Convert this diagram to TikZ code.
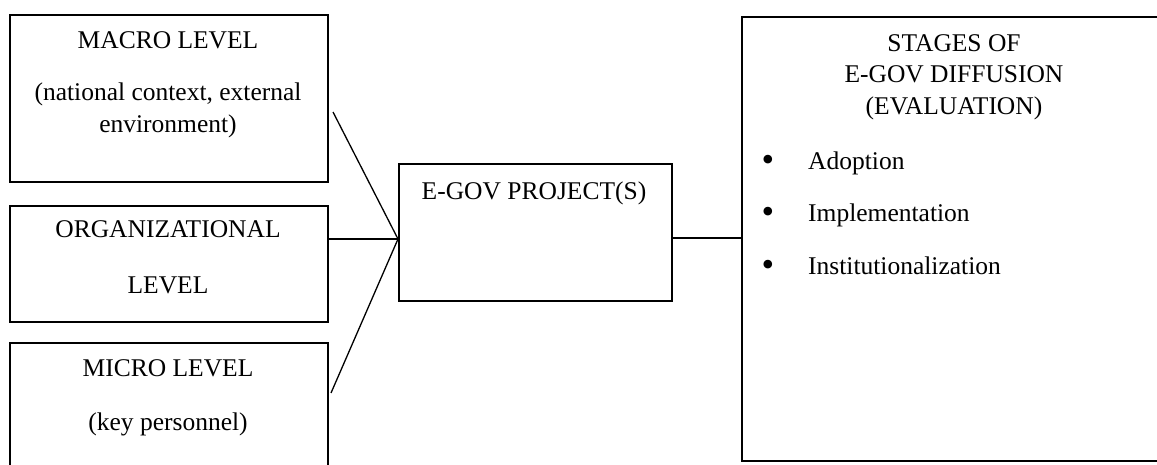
\documentclass[tikz,border=0pt]{standalone}
\usepackage{fontspec}
\setmainfont{Liberation Serif}
\begin{document}
\begin{tikzpicture}[x=1pt,y=-1pt,
  box/.style={draw, line width=2pt, inner sep=0pt, anchor=north west},
  lbl/.style={anchor=base, inner sep=0pt, font=\fontsize{25.5}{30.6}\selectfont},
  lbll/.style={anchor=base west, inner sep=0pt, font=\fontsize{25.5}{30.6}\selectfont},
  bul/.style={anchor=center, inner sep=0pt, font=\fontsize{36}{36}\selectfont},
  link/.style={line width=1.3pt}]
\useasboundingbox (0,0) rectangle (1157,465);
\fill[white] (0,0) rectangle (1157,465);
\clip (0,0) rectangle (1157,465);
% boxes
\node[box, minimum width=318pt, minimum height=167pt] (macro) at (9,14) {};
\node[box, minimum width=318pt, minimum height=116pt] (org) at (9,205) {};
\node[box, minimum width=318pt, minimum height=150pt] (micro) at (9,342) {};
\node[box, minimum width=273pt, minimum height=137pt] (egov) at (398,163) {};
\node[box, minimum width=440pt, minimum height=444pt] (stages) at (741,16) {};
% texts
\node[lbl] (tmacro) at (168,49) {MACRO LEVEL};
\node[lbl] (tmacro2) at (168,101) {(national context, external};
\node[lbl] (tmacro3) at (168,133) {environment)};
\node[lbl] (torg) at (168,238) {ORGANIZATIONAL};
\node[lbl] (torg2) at (168,293) {LEVEL};
\node[lbl] (tmicro) at (168,376) {MICRO LEVEL};
\node[lbl] (tmicro2) at (168,430) {(key personnel)};
\node[lbl] (tegov) at (534,200) {E-GOV PROJECT(S)};
\node[lbl] (ts1) at (954,52) {STAGES OF};
\node[lbl] (ts2) at (954,83) {E-GOV DIFFUSION};
\node[lbl] (ts3) at (954,115) {(EVALUATION)};
\node[bul] (b1) at (768,163) {\textbullet};
\node[bul] (b2) at (768,215) {\textbullet};
\node[bul] (b3) at (768,268) {\textbullet};
\node[lbll] (i1) at (808,170) {Adoption};
\node[lbll] (i2) at (808,222) {Implementation};
\node[lbll] (i3) at (808,275) {Institutionalization};
% connectors
\coordinate (hub) at (egov.west |- 0,239);
\draw[link] ([xshift=4pt]macro.east |- 0,112) -- (hub);
\draw[link] (org.east |- hub) -- (hub);
\draw[link] ([xshift=2pt]micro.east |- 0,393) -- (hub);
\draw[link] (egov.east |- 0,238) -- (stages.west |- 0,238);
\end{tikzpicture}
\end{document}
